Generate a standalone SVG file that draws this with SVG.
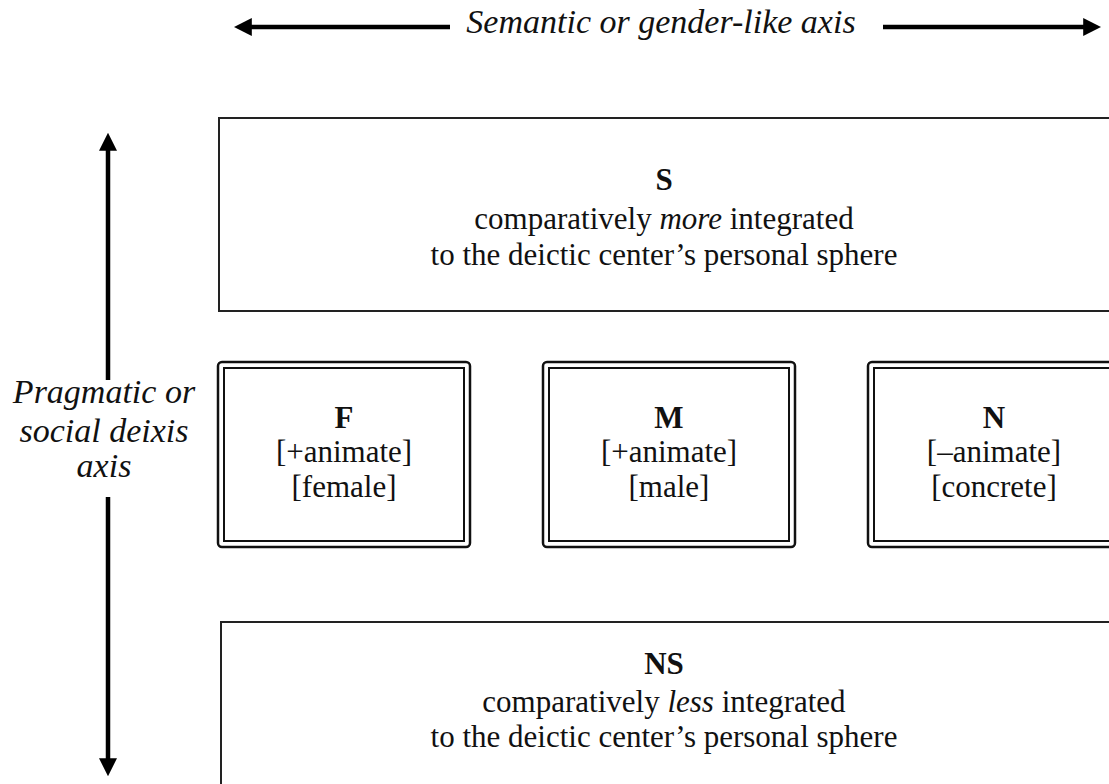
<svg xmlns="http://www.w3.org/2000/svg" width="1109" height="784" viewBox="0 0 1109 784">
<style>
.t{font-family:"Liberation Serif","Times New Roman",serif;font-size:31px;fill:#111;text-anchor:middle}
.b{font-weight:bold}
.ax{font-family:"Liberation Serif","Times New Roman",serif;font-size:34px;font-style:italic;fill:#111;text-anchor:middle}
.box{fill:#fff;stroke:#222;stroke-width:2}
.outer{fill:#fff;stroke:#111;stroke-width:2.5}
.inner{fill:none;stroke:#111;stroke-width:2}
.arr{stroke:#000;stroke-width:4.5;fill:none}
</style>
<defs>
<marker id="ah" viewBox="0 0 10 10" refX="1" refY="5" markerWidth="4" markerHeight="4" markerUnits="strokeWidth" orient="auto">
<path d="M0,0 L10,5 L0,10 z" fill="#000"/>
</marker>
</defs>
<g id="connectors">
<line class="arr" x1="450" y1="27" x2="250" y2="27" marker-end="url(#ah)"/>
<line class="arr" x1="883" y1="27" x2="1085" y2="27" marker-end="url(#ah)"/>
<line class="arr" x1="108" y1="380" x2="108" y2="149" marker-end="url(#ah)"/>
<line class="arr" x1="108" y1="497" x2="108" y2="760" marker-end="url(#ah)"/>
</g>
<g id="axis-top"><text class="ax" x="661" y="33">Semantic or gender-like axis</text></g>
<g id="axis-left">
<text class="ax" x="104" y="403">Pragmatic or</text>
<text class="ax" x="104" y="442">social deixis</text>
<text class="ax" x="104" y="477">axis</text>
</g>
<g id="S">
<rect class="box" x="219" y="118" width="900" height="193"/>
<text class="t b" x="664" y="190">S</text>
<text class="t" x="664" y="229">comparatively <tspan font-style="italic">more</tspan> integrated</text>
<text class="t" x="664" y="265">to the deictic center’s personal sphere</text>
</g>
<g id="F">
<rect class="outer" x="218" y="362" width="252" height="185" rx="4"/>
<rect class="inner" x="224" y="368" width="240" height="173"/>
<text class="t b" x="344" y="428">F</text>
<text class="t" x="344" y="462">[+animate]</text>
<text class="t" x="344" y="497">[female]</text>
</g>
<g id="M">
<rect class="outer" x="543" y="362" width="252" height="185" rx="4"/>
<rect class="inner" x="549" y="368" width="240" height="173"/>
<text class="t b" x="669" y="428">M</text>
<text class="t" x="669" y="462">[+animate]</text>
<text class="t" x="669" y="497">[male]</text>
</g>
<g id="N">
<rect class="outer" x="868" y="362" width="252" height="185" rx="4"/>
<rect class="inner" x="874" y="368" width="240" height="173"/>
<text class="t b" x="994" y="428">N</text>
<text class="t" x="994" y="462">[–animate]</text>
<text class="t" x="994" y="497">[concrete]</text>
</g>
<g id="NS">
<rect class="box" x="221" y="622" width="900" height="200"/>
<text class="t b" x="664" y="674">NS</text>
<text class="t" x="664" y="712">comparatively <tspan font-style="italic">less</tspan> integrated</text>
<text class="t" x="664" y="747">to the deictic center’s personal sphere</text>
</g>
</svg>
